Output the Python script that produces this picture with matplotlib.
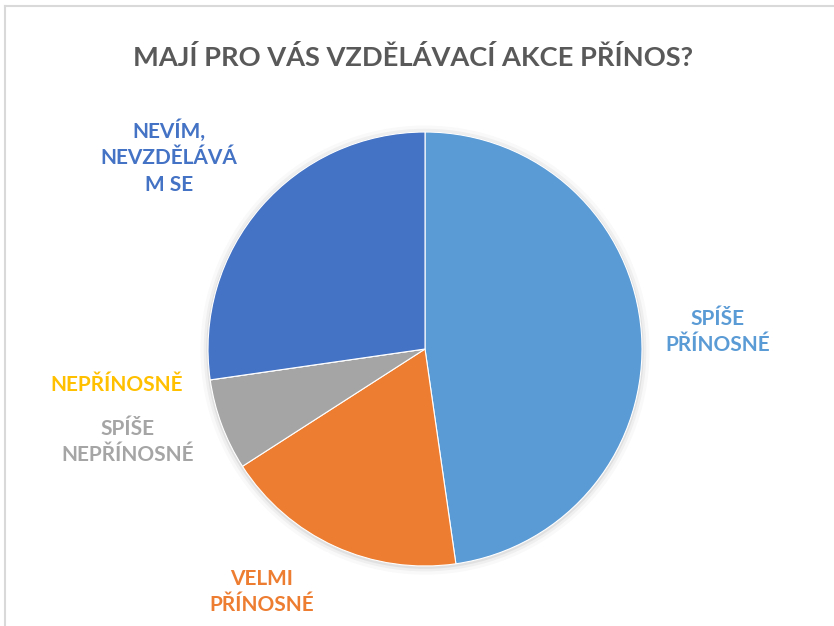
import numpy as np
import matplotlib
matplotlib.use("Agg")
import matplotlib.pyplot as plt
from matplotlib.lines import Line2D
from matplotlib.patches import Circle

# data
kategorie = ["SPÍŠE\nPŘÍNOSNÉ", "VELMI\nPŘÍNOSNÉ", "SPÍŠE\nNEPŘÍNOSNÉ", "NEPŘÍNOSNĚ",
             "NEVÍM,\nNEVZDĚLÁVÁ\nM SE"]
pocty = [21, 8, 3, 0, 12]
barvy = ["#5B9BD5", "#ED7D31", "#A5A5A5", "#FFC000", "#4472C4"]

# label positions (in pie radius units)
pozice_popisku = [(1.35, 0.078), (-0.751, -1.12), (-1.369, -0.429), (-1.419, -0.166), (-1.18, 0.885)]

plt.rcParams['font.family'] = ['Lato', 'DejaVu Sans']

fig = plt.figure(figsize=(8.34, 6.26), dpi=100)
ax = fig.add_axes([0, 0, 1, 1])

# pie centre at (425, 349) px, radius 217 px
W, H = 834, 626
cx, cy, R = 425, 349, 217

# soft shadow round the pie
for r, a in [(1.035, 0.025), (1.02, 0.04), (1.008, 0.06)]:
    ax.add_patch(Circle((0, -0.005), r, color='black', alpha=a, lw=0, zorder=0))

wedges, _ = ax.pie(pocty, colors=barvy, startangle=90, counterclock=False,
                   radius=1.0, center=(0, 0), frame=True,
                   wedgeprops=dict(edgecolor='white', linewidth=0.8, zorder=1))
ax.axis('off')
ax.set_aspect('equal')
ax.set_xlim(-cx / R, (W - cx) / R)
ax.set_ylim(-(H - cy) / R, cy / R)

for txt, (x, y), c in zip(kategorie, pozice_popisku, barvy):
    ax.text(x, y, txt, color=c, fontsize=15, fontweight='bold',
            ha='center', va='center', linespacing=1.4)

fig.text(413 / W, 1 - 57 / H, "MAJÍ PRO VÁS VZDĚLÁVACÍ AKCE PŘÍNOS?",
         color='#595959', fontsize=19.6, fontweight='bold', ha='center', va='center')

# chart border (top and left visible)
fig.add_artist(Line2D([5 / W, 1], [1 - 6 / H, 1 - 6 / H], color='#D9D9D9', lw=1.5))
fig.add_artist(Line2D([5 / W, 5 / W], [0, 1 - 6 / H], color='#D9D9D9', lw=1.5))

fig.savefig("out.png", dpi=100)
